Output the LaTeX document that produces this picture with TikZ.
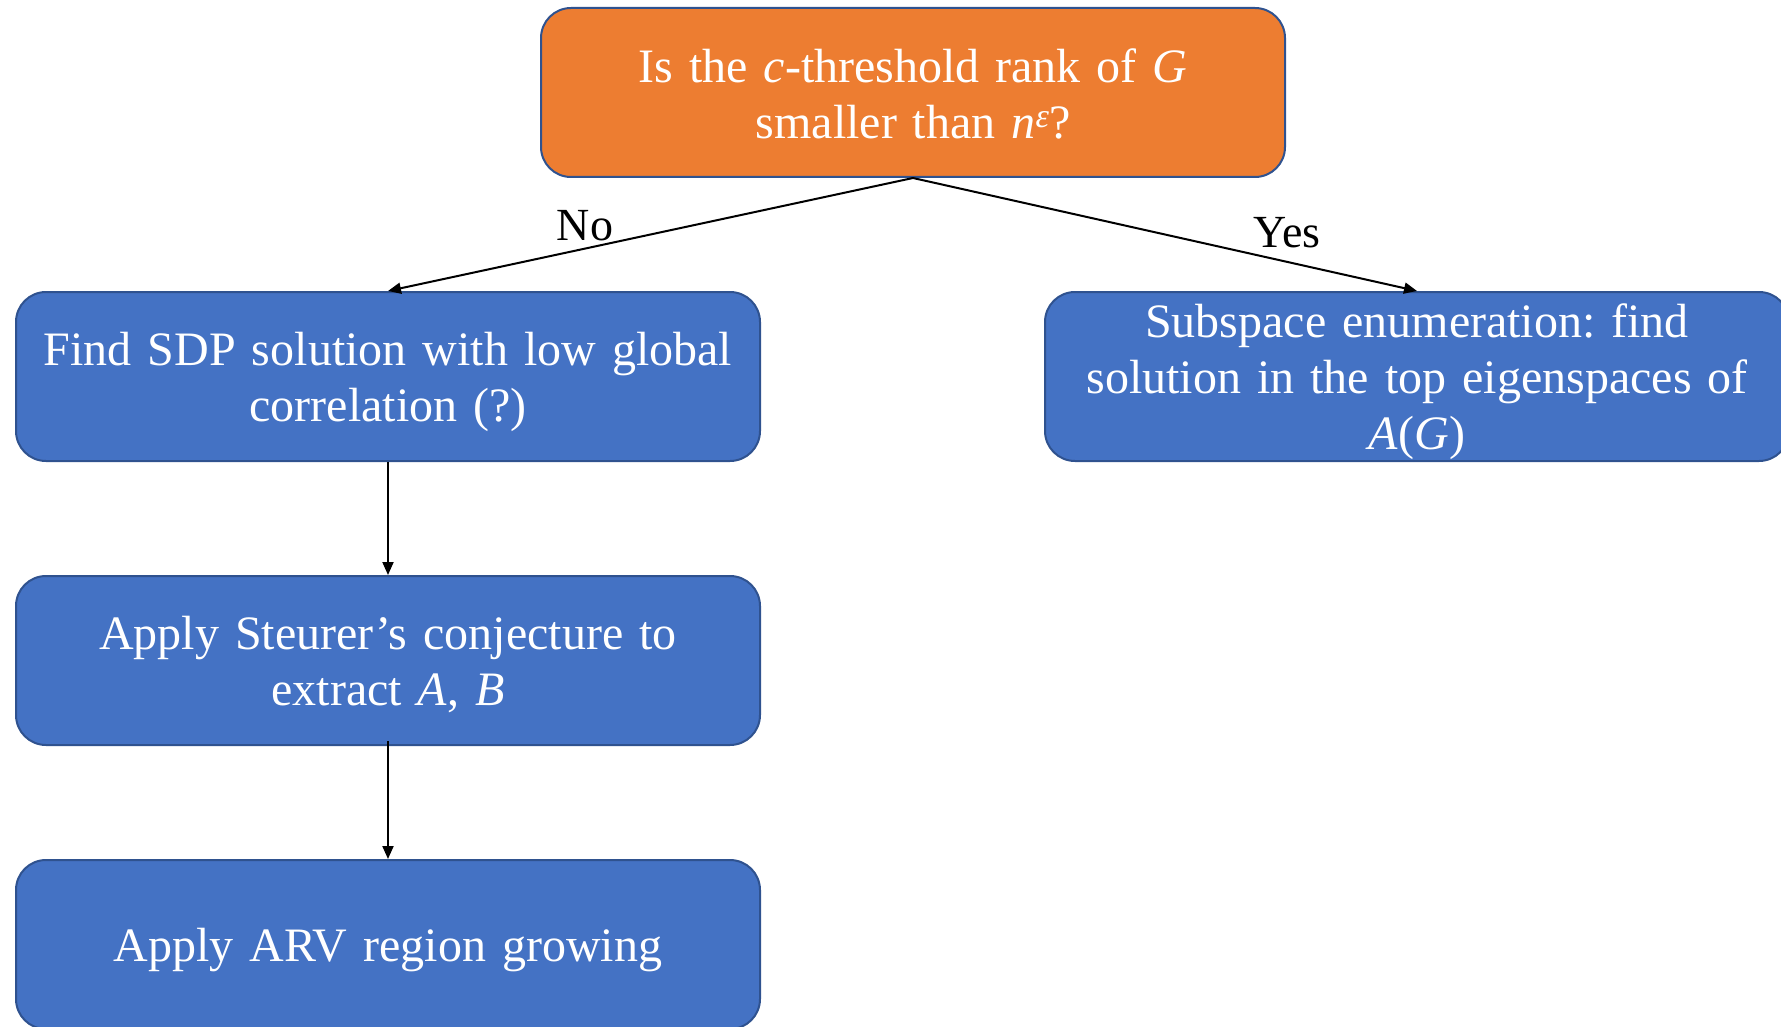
\documentclass[tikz,border=0pt]{standalone}
\usepackage{fontspec}
\setmainfont{Liberation Serif}
\usetikzlibrary{arrows.meta}
\definecolor{boxorange}{HTML}{ED7D31}
\definecolor{boxblue}{HTML}{4472C4}
\definecolor{boxline}{HTML}{2F528F}
\newcommand{\supeps}{\raisebox{0.5ex}{\fontsize{34}{34}\selectfont\textit{ε}}}
\newcommand{\topstrut}[1]{\rule{0pt}{#1}}
\tikzset{
  flowbox/.style={draw=boxline, line width=2pt, rounded corners=30pt,
    minimum width=744pt, minimum height=169pt, text width=740pt,
    align=center, text=white, inner sep=0pt,
    font=\fontsize{48}{56}\selectfont\frenchspacing},
  arr/.style={line width=2pt, -{Triangle[length=13pt,width=11pt]}},
  lbl/.style={font=\fontsize{46}{50}\selectfont, inner sep=0pt}
}
\begin{document}
\begin{tikzpicture}[x=1pt,y=-1pt]
\useasboundingbox (0,0) rectangle (1781,1027);
\node[flowbox, fill=boxorange] (q) at (913,92.5) {\baselineskip=56pt \topstrut{37pt}Is the \textit{c}-threshold rank of \textit{G}\\smaller than \textit{n}\supeps?};
\node[flowbox, fill=boxblue] (sdp) at (388,376.5) {\baselineskip=56pt \topstrut{45pt}Find SDP solution with low global\\correlation (?)};
\node[flowbox, fill=boxblue] (st) at (388,660.5) {\baselineskip=56pt \topstrut{41pt}Apply Steurer’s conjecture to\\extract \textit{A}, \textit{B}};
\node[flowbox, fill=boxblue] (arv) at (388,944.5) {\topstrut{44pt}Apply ARV region growing};
\node[flowbox, fill=boxblue] (sub) at (1417,376.5) {\baselineskip=56pt \topstrut{44pt}Subspace enumeration: find\\solution in the top eigenspaces of\\\textit{A}(\textit{G})};
\draw[arr] (q.south) -- (sdp.north);
\draw[arr] (q.south) -- (sub.north);
\draw[arr] (sdp.south) -- (st.north);
\draw[arr] ([yshift=5pt]st.south) -- (arv.north);
\node[lbl] (no) at (585,226) {No};
\node[lbl] (yes) at (1287,233) {Yes};
\end{tikzpicture}
\end{document}
